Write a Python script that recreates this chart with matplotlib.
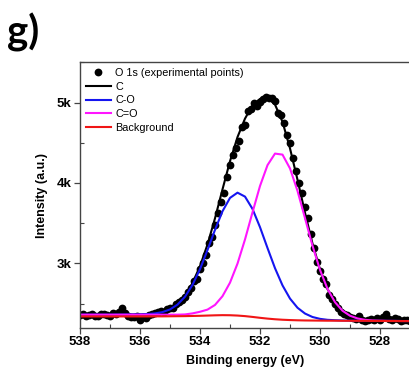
import numpy as np
import matplotlib
matplotlib.use("Agg")
import matplotlib.pyplot as plt
from matplotlib.ticker import FixedLocator, FixedFormatter, MultipleLocator

plt.rcParams["font.family"] = ["Liberation Sans", "DejaVu Sans"]

# experimental O 1s points, 538.0 -> 527.0 eV, 0.1 eV step
exp_energy = np.round(np.arange(538.0, 526.95, -0.1), 2)
exp_counts = [
    2355, 2370, 2345, 2360, 2375, 2350, 2340, 2365, 2370, 2355, 2345,
    2380, 2365, 2400, 2440, 2385, 2350, 2335, 2330, 2345, 2300,
    2335, 2325, 2355, 2365, 2380, 2395, 2405, 2400, 2430, 2445,
    2440, 2490, 2520, 2550, 2580, 2640, 2690, 2775, 2800, 2935,
    3010, 3110, 3250, 3330, 3480, 3620, 3760, 3870, 4070, 4220,
    4350, 4440, 4520, 4690, 4720, 4890, 4920, 4990, 4960, 5010,
    5040, 5070, 5060, 5050, 5020, 4870, 4850, 4740, 4600, 4500,
    4310, 4150, 4000, 3880, 3700, 3560, 3370, 3190, 3020, 2900,
    2800, 2740, 2610, 2560, 2500, 2450, 2400, 2370, 2360, 2335,
    2320, 2310, 2345, 2300, 2280, 2295, 2310, 2300, 2315, 2290,
    2330, 2375, 2310, 2290, 2320, 2305, 2280, 2300, 2290, 2285,
]

# fitted curves, 538 -> 527 eV, 0.25 eV step
fit_energy = np.arange(538.0, 526.99, -0.25)
fit_c = [
    2362, 2362, 2362, 2362, 2362, 2362, 2362, 2363, 2364, 2370,
    2380, 2398, 2432, 2495, 2600, 2755, 2965, 3235, 3560, 3920,
    4270, 4570, 4800, 4965, 5045, 5060, 4975, 4760, 4430, 4040,
    3630, 3245, 2925, 2680, 2515, 2410, 2350, 2316, 2299, 2291,
    2287, 2285, 2284, 2283, 2283,
]
fit_co = [
    2362, 2362, 2362, 2362, 2362, 2363, 2364, 2365, 2366, 2370,
    2378, 2394, 2427, 2487, 2585, 2732, 2928, 3165, 3417, 3648,
    3814, 3879, 3830, 3677, 3450, 3191, 2940, 2726, 2562, 2448,
    2376, 2333, 2310, 2298, 2293, 2290, 2288, 2287, 2286, 2285,
    2285, 2284, 2284, 2283, 2283,
]
fit_cdo = [
    2362, 2362, 2362, 2362, 2362, 2362, 2362, 2362, 2362, 2362,
    2362, 2362, 2362, 2362, 2365, 2378, 2398, 2425, 2483, 2592,
    2760, 2997, 3297, 3634, 3962, 4221, 4365, 4352, 4180, 3901,
    3562, 3219, 2919, 2683, 2517, 2411, 2349, 2315, 2298, 2290,
    2287, 2285, 2284, 2283, 2283,
]
background = [
    2340, 2340, 2340, 2340, 2340, 2340, 2340, 2340, 2340, 2340,
    2341, 2341, 2342, 2343, 2344, 2346, 2348, 2351, 2354, 2356,
    2355, 2351, 2344, 2334, 2323, 2313, 2305, 2299, 2295, 2292,
    2290, 2289, 2288, 2287, 2287, 2286, 2286, 2285, 2285, 2284,
    2284, 2283, 2283, 2282, 2282,
]

y_ticks = [3000, 4000, 5000]
y_tick_labels = ["3k", "4k", "5k"]
x_ticks = [538, 536, 534, 532, 530, 528]

fig = plt.figure(figsize=(4.09, 3.75), dpi=100)
ax = fig.add_axes([80 / 409, 47.3 / 375, 330 / 409, 265.4 / 375])

ax.plot(exp_energy, exp_counts, "o", color="black", ms=5.6, mec="none",
        label="O 1s (experimental points)")
ax.plot(fit_energy, fit_c, color="black", lw=1.5, label="C")
ax.plot(fit_energy, fit_co, color="#1515f0", lw=1.5, label="C-O")
ax.plot(fit_energy, fit_cdo, color="#ff15ff", lw=1.5, label="C=O")
ax.plot(fit_energy, background, color="#f01515", lw=1.5, label="Background")

ax.set_xlim(538, 527)
ax.set_ylim(2200, 5500)
ax.spines["right"].set_visible(False)
for s in ax.spines.values():
    s.set_color("#444444")
    s.set_linewidth(1.0)

ax.xaxis.set_major_locator(FixedLocator(x_ticks))
ax.xaxis.set_minor_locator(MultipleLocator(1))
ax.yaxis.set_major_locator(FixedLocator(y_ticks))
ax.yaxis.set_major_formatter(FixedFormatter(y_tick_labels))
ax.yaxis.set_minor_locator(MultipleLocator(500))
ax.tick_params(which="major", direction="out", length=4, width=0.9,
               color="#444444", labelsize=9.5, pad=2)
ax.tick_params(which="minor", direction="in", length=3, width=0.8,
               color="#444444")
for lab in ax.get_xticklabels() + ax.get_yticklabels():
    lab.set_fontweight("bold")

ax.set_xlabel("Binding energy (eV)", fontsize=9, fontweight="bold", labelpad=5)
ax.set_ylabel("Intensity (a.u.)", fontsize=9, fontweight="bold", labelpad=6)

ax.legend(loc="upper left", frameon=False, fontsize=7.8, handlelength=2.3,
          handletextpad=0.4, labelspacing=0.33, borderaxespad=0.25,
          borderpad=0.3, markerscale=1.0)

fig.text(0.018, 0.965, "g)", fontsize=29, fontweight="bold",
         family=["Lato", "DejaVu Sans"], va="top", ha="left")

fig.savefig("out.png", dpi=100)
